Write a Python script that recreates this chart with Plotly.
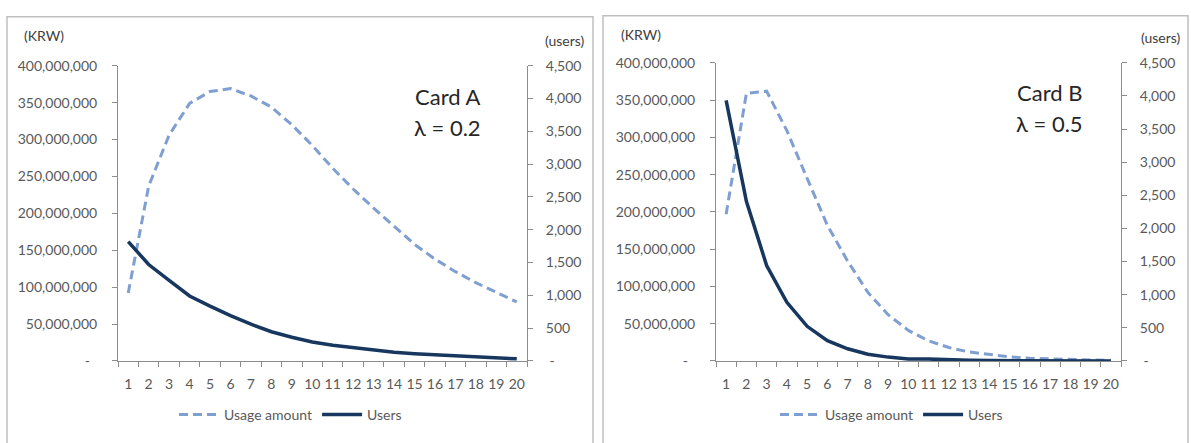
import plotly.graph_objects as go

W, H = 1191, 443

periods = list(range(1, 21))
tick_labels = [str(p) for p in periods]

# Card A (lambda = 0.2)
usage_a = [92e6, 237e6, 306e6, 349e6, 365e6, 369e6, 359e6, 344e6, 320e6, 292e6,
           261e6, 233e6, 207e6, 183e6, 158e6, 138e6, 121e6, 106e6, 93e6, 80e6]
users_a = [1820, 1470, 1230, 990, 835, 690, 560, 445, 362, 290,
           240, 200, 162, 132, 110, 92, 74, 57, 50, 32]

# Card B (lambda = 0.5)
usage_b = [197e6, 359e6, 362e6, 309e6, 245e6, 182e6, 134e6, 92e6, 62e6, 41e6,
           27e6, 18e6, 12e6, 8.5e6, 5.6e6, 3.5e6, 2.5e6, 1.7e6, 1.3e6, 1e6]
users_b = [3934, 2410, 1441, 885, 523, 305, 184, 102, 58, 30,
           28, 15, 9, 6, 4, 3, 2, 1, 1, 1]

krw_ticks = [0, 50e6, 100e6, 150e6, 200e6, 250e6, 300e6, 350e6, 400e6]
krw_text = ["-  ", "50,000,000", "100,000,000", "150,000,000", "200,000,000",
            "250,000,000", "300,000,000", "350,000,000", "400,000,000"]
user_ticks = [0, 500, 1000, 1500, 2000, 2500, 3000, 3500, 4000, 4500]
user_text = [" -", "500", "1,000", "1,500", "2,000", "2,500", "3,000", "3,500", "4,000", "4,500"]

FONT = "Lato"
GREY = "#595959"
AXIS = "#8C8C8C"
DASH_COL = "#809FD1"
SOLID_COL = "#17375E"

def px(x):
    return x / W

def py(y):
    return 1 - y / H

fig = go.Figure()

fig.add_trace(go.Scatter(x=periods, y=usage_a, name="Usage amount", mode="lines",
                         line=dict(color=DASH_COL, width=3, dash="9px,5px"),
                         xaxis="x", yaxis="y", legend="legend"))
fig.add_trace(go.Scatter(x=periods, y=users_a, name="Users", mode="lines",
                         line=dict(color=SOLID_COL, width=3.5),
                         xaxis="x", yaxis="y2", legend="legend"))
fig.add_trace(go.Scatter(x=periods, y=usage_b, name="Usage amount", mode="lines",
                         line=dict(color=DASH_COL, width=3, dash="9px,5px"),
                         xaxis="x2", yaxis="y3", legend="legend2"))
fig.add_trace(go.Scatter(x=periods, y=users_b, name="Users", mode="lines",
                         line=dict(color=SOLID_COL, width=3.5),
                         xaxis="x2", yaxis="y4", legend="legend2"))

tickfont = dict(family=FONT, size=14, color=GREY)

def xaxis_cfg(x0, x1, anchor):
    return dict(domain=[px(x0), px(x1)], anchor=anchor, range=[0.5, 20.5],
                tickmode="array", tickvals=periods, ticktext=tick_labels, ticks="",
                showline=True, linecolor=AXIS, linewidth=1, showgrid=False,
                zeroline=False, tickfont=tickfont, ticklabelstandoff=10,
                minor=dict(tickmode="array", tickvals=[p + 0.5 for p in [0] + periods],
                           ticks="outside", ticklen=5, tickcolor=AXIS, tickwidth=1),
                fixedrange=True)

def yaxis_cfg(y0, y1, anchor, rng, tv, tt, side="left", overlaying=None, standoff=10):
    d = dict(domain=[py(y1), py(y0)], anchor=anchor, range=rng, side=side,
             tickmode="array", tickvals=tv, ticktext=tt, ticks="outside", ticklen=5,
             tickcolor=AXIS, showline=True, linecolor=AXIS, linewidth=1,
             showgrid=False, zeroline=False, tickfont=tickfont,
             ticklabelstandoff=standoff, fixedrange=True)
    if overlaying:
        d["overlaying"] = overlaying
    return d

# left panel plot area: x 118..527, y 59..366
# right panel plot area: x 716..1121, y 56..366
fig.update_layout(
    width=W, height=H,
    margin=dict(l=0, r=0, t=0, b=0),
    paper_bgcolor="white", plot_bgcolor="white",
    font=dict(family=FONT, color=GREY),
    xaxis=xaxis_cfg(118, 527, "y"),
    yaxis=yaxis_cfg(59, 366, "x", [0, 400e6], krw_ticks, krw_text, standoff=12),
    yaxis2=yaxis_cfg(59, 366, "x", [0, 4500], user_ticks, user_text, side="right",
                     overlaying="y", standoff=10),
    xaxis2=xaxis_cfg(716, 1121, "y3"),
    yaxis3=yaxis_cfg(56, 366, "x2", [0, 400e6], krw_ticks, krw_text, standoff=12),
    yaxis4=yaxis_cfg(56, 366, "x2", [0, 4500], user_ticks, user_text, side="right",
                     overlaying="y3", standoff=10),
    legend=dict(orientation="h", x=px(174), y=py(422), xanchor="left", yanchor="middle",
                font=dict(family=FONT, size=14, color=GREY), bgcolor="rgba(0,0,0,0)",
                itemwidth=40, tracegroupgap=0),
    legend2=dict(orientation="h", x=px(775), y=py(422), xanchor="left", yanchor="middle",
                 font=dict(family=FONT, size=14, color=GREY), bgcolor="rgba(0,0,0,0)",
                 itemwidth=40, tracegroupgap=0),
    showlegend=True,
)

# panel borders
for x0, x1, y0 in [(7, 593, 8), (603, 1188, 7)]:
    fig.add_shape(type="rect", xref="paper", yref="paper",
                  x0=px(x0), x1=px(x1), y0=py(y0), y1=py(460),
                  line=dict(color="#BFBFBF", width=1.5), fillcolor="rgba(0,0,0,0)",
                  layer="below")

ann = [
    ("(KRW)", 22, 28, "left", 14, "#404040"),
    ("(users)", 586, 33, "right", 14, "#404040"),
    ("Card A", 447, 91, "center", 22, "#262626"),
    ("λ = 0.2", 447, 123, "center", 22, "#262626"),
    ("(KRW)", 619, 27, "left", 14, "#404040"),
    ("(users)", 1182, 30, "right", 14, "#404040"),
    ("Card B", 1049, 87, "center", 22, "#262626"),
    ("λ = 0.5", 1049, 119, "center", 22, "#262626"),
]
for text, x, y, anchor, size, col in ann:
    fig.add_annotation(text=text, xref="paper", yref="paper", x=px(x), y=py(y),
                       xanchor=anchor, yanchor="middle", showarrow=False,
                       font=dict(family=FONT, size=size, color=col))

fig.write_html("out.html")
